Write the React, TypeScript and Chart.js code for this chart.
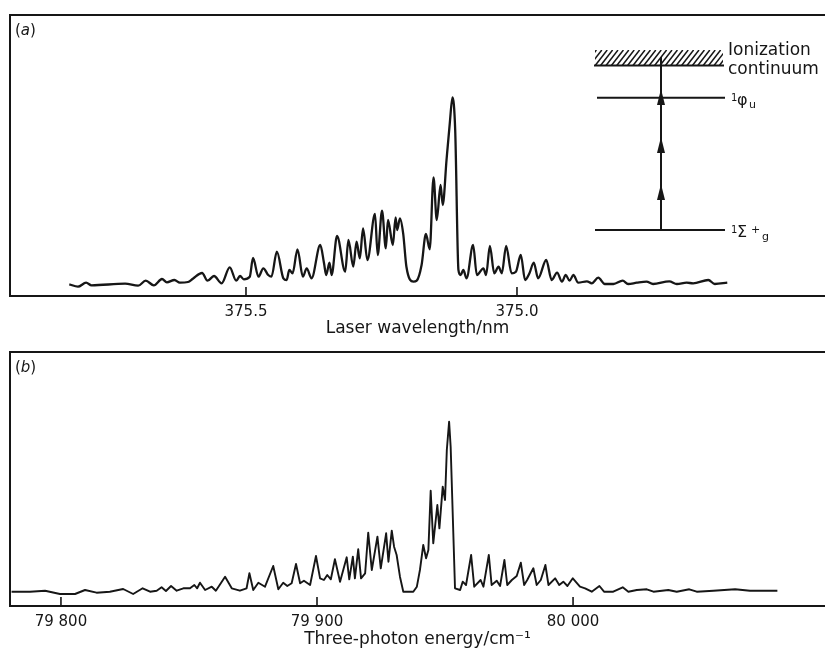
import React, { useEffect, useRef } from "react";
import { Chart, registerables } from "chart.js";

Chart.register(...registerables);

// ---- Panel (a): laser wavelength (nm) vs ion signal (arb. units) ----
const wavelengthA = [375.826, 375.810, 375.795, 375.785, 375.723, 375.699, 375.685, 375.670, 375.655, 375.646,
  375.632, 375.622, 375.607, 375.598, 375.581, 375.571, 375.559, 375.545, 375.530, 375.518,
  375.511, 375.504, 375.493, 375.487, 375.477, 375.468, 375.459, 375.453, 375.443, 375.431,
  375.425, 375.420, 375.414, 375.405, 375.395, 375.388, 375.379, 375.363, 375.356, 375.352,
  375.346, 375.342, 375.332, 375.317, 375.311, 375.302, 375.296, 375.290, 375.284, 375.276,
  375.262, 375.257, 375.249, 375.242, 375.238, 375.229, 375.224, 375.221, 375.216, 375.210,
  375.204, 375.191, 375.185, 375.176, 375.168, 375.161, 375.154, 375.148, 375.141, 375.137,
  375.130, 375.124, 375.119, 375.114, 375.108, 375.104, 375.099, 375.093, 375.081, 375.074,
  375.062, 375.057, 375.050, 375.042, 375.034, 375.028, 375.020, 375.010, 375.002, 374.993,
  374.985, 374.977, 374.969, 374.961, 374.946, 374.936, 374.926, 374.917, 374.910, 374.903,
  374.896, 374.887, 374.871, 374.862, 374.850, 374.838, 374.822, 374.805, 374.795, 374.779,
  374.761, 374.749, 374.719, 374.705, 374.687, 374.675, 374.647, 374.635, 374.612];
const intensityA = [11.7, 9.3, 13.3, 10.7, 12.3, 10.3, 15.3, 10.7, 17, 13.7,
  16, 13.3, 14, 17.3, 23, 15.3, 20, 12.7, 28.7, 15.3,
  20, 16.7, 19.3, 38, 19.3, 27.7, 21, 19.3, 44.3, 17.7,
  16, 26, 22.7, 46.7, 19.3, 27.7, 17.7, 51, 32.7, 21,
  33.3, 21, 60, 24.3, 56, 29.3, 54.3, 37.7, 67.7, 36,
  82, 41, 85.3, 47.7, 76, 51, 78.7, 66, 77.7, 62.7,
  29.3, 14.3, 15.3, 31, 62, 46.7, 118.7, 76, 111, 91,
  136, 172.7, 198.7, 166, 26, 21, 26, 17.7, 51, 21,
  27.7, 21, 50, 22.7, 29.3, 22.7, 50, 22.7, 24.3, 41,
  16, 22.7, 33.3, 17.7, 36, 16, 23.3, 14.3, 21, 15.3,
  21, 13.3, 14.7, 12.7, 18.3, 12, 12, 15.3, 12, 13.3,
  14.3, 12, 14.7, 12, 13.3, 12.7, 16, 12, 13.3];
const wavelengthTicks = [375.5, 375.0];
const wavelengthRange = [374.4317, 375.9354];
const intensityRangeA = [0, 281];

// ---- Panel (b): three-photon energy (cm^-1) vs ion signal ----
const energyB = [79780.7, 79787.9, 79793.8, 79799.6, 79805.5, 79809.4, 79813.9, 79819.1, 79824.3, 79828.2,
  79831.9, 79834.8, 79837.4, 79839.3, 79841.0, 79843.0, 79845.2, 79847.8, 79850.4, 79852.1,
  79853.2, 79854.3, 79856.3, 79858.9, 79860.5, 79864.1, 79866.7, 79869.9, 79872.5, 79873.6,
  79875.1, 79877.1, 79879.7, 79882.9, 79884.9, 79886.8, 79888.4, 79890.1, 79891.8, 79893.4,
  79894.9, 79897.3, 79899.6, 79901.2, 79902.7, 79904.0, 79905.4, 79907.0, 79909.0, 79911.6,
  79912.6, 79914.0, 79914.8, 79916.1, 79917.2, 79918.8, 79920.0, 79921.4, 79923.6, 79924.9,
  79927.0, 79927.9, 79929.2, 79930.1, 79931.1, 79932.4, 79933.7, 79937.6, 79939.0, 79940.2,
  79941.5, 79942.6, 79943.5, 79944.4, 79945.4, 79947.0, 79947.8, 79949.1, 79950.0, 79950.7,
  79951.6, 79952.2, 79953.9, 79955.9, 79956.9, 79958.2, 79960.2, 79961.4, 79963.9, 79965.0,
  79967.1, 79968.2, 79970.2, 79971.5, 79973.2, 79974.3, 79976.1, 79978.0, 79979.6, 79980.9,
  79982.1, 79984.5, 79985.8, 79987.4, 79989.2, 79990.4, 79993.0, 79994.6, 79996.2, 79997.8,
  79999.9, 80002.7, 80004.7, 80007.3, 80010.3, 80012.1, 80015.7, 80019.4, 80021.6, 80024.9,
  80028.8, 80031.4, 80037.2, 80040.5, 80045.4, 80048.3, 80054.8, 80063.3, 80069.1, 80079.8];
const intensityB = [14.3, 14.3, 15.3, 12, 12, 16, 13.3, 14.3, 17, 12,
  17.7, 14.3, 15.3, 18.7, 15, 20, 15.3, 17.7, 17.7, 21,
  17.7, 23.3, 16, 19.3, 15.3, 29.3, 17.7, 15.3, 17.7, 32.7,
  16, 23.3, 19.3, 40, 16.7, 23.3, 20, 22.7, 42, 22.7,
  25.3, 21, 50, 27.7, 26, 31, 26.7, 46.7, 24.3, 48.7,
  26.7, 49.3, 27.7, 56.7, 27.7, 32.7, 73.3, 36, 69.3, 37.7,
  72.7, 44.3, 75.3, 59.3, 51, 29.3, 14.3, 14.3, 19.3, 36,
  61, 47.7, 56, 115.3, 62.7, 101, 77.7, 119.3, 106, 156,
  184.3, 159.3, 17.7, 16, 24.3, 21, 51, 19.3, 26, 19.3,
  51, 21, 25.3, 20, 46, 21, 26, 30, 43.3, 21,
  26, 37.7, 21, 26, 41, 21, 27.7, 21, 24.3, 20,
  27.7, 19.3, 17.7, 14.3, 20, 14.3, 14.3, 18.7, 14.3, 16,
  16.7, 14.3, 16, 14.3, 16.7, 14.3, 15.3, 16.7, 15.3, 15.3];
const energyTicks = [79800, 79900, 80000];
const energyRange = [79780.1, 80098.4];
const intensityRangeB = [0, 254];

const INK = "#161616";
const FONT = "'DejaVu Sans', 'Liberation Sans', sans-serif";

const framePlugin = {
  id: "frame",
  afterDraw(chart: any, _args: any, opts: any) {
    const { ctx, chartArea: a } = chart;
    ctx.save();
    ctx.strokeStyle = INK;
    ctx.lineWidth = 2;
    ctx.beginPath();
    ctx.moveTo(a.right, a.top);
    ctx.lineTo(a.left, a.top);
    ctx.lineTo(a.left, a.bottom);
    ctx.lineTo(a.right, a.bottom);
    ctx.stroke();
    const xs = chart.scales.x;
    ctx.lineWidth = 1.6;
    xs.ticks.forEach((t: any) => {
      const px = xs.getPixelForValue(t.value);
      ctx.beginPath();
      ctx.moveTo(px, a.bottom);
      ctx.lineTo(px, a.bottom - 9);
      ctx.stroke();
    });
    // panel label "(a)" with italic letter
    const label = opts.label || "";
    ctx.fillStyle = INK;
    ctx.textBaseline = "alphabetic";
    let x = a.left + 5;
    const y = a.top + 20;
    ctx.font = `15px ${FONT}`;
    ctx.fillText("(", x, y);
    x += ctx.measureText("(").width;
    ctx.font = `italic 15px ${FONT}`;
    ctx.fillText(label, x, y);
    x += ctx.measureText(label).width;
    ctx.font = `15px ${FONT}`;
    ctx.fillText(")", x, y);
    ctx.restore();
  },
};

const insetPlugin = {
  id: "inset",
  afterDraw(chart: any) {
    const { ctx, chartArea: a } = chart;
    const ox = a.left - 10;
    const oy = a.top - 15;
    ctx.save();
    ctx.strokeStyle = INK;
    ctx.fillStyle = INK;
    // hatched continuum
    const hx0 = ox + 595, hx1 = ox + 723, hy0 = oy + 50, hy1 = oy + 65.5;
    ctx.save();
    ctx.beginPath();
    ctx.rect(hx0, hy0, hx1 - hx0, hy1 - hy0);
    ctx.clip();
    ctx.lineWidth = 1.5;
    for (let x = hx0 - 16; x < hx1 + 4; x += 5.4) {
      ctx.beginPath();
      ctx.moveTo(x, hy1);
      ctx.lineTo(x + 12, hy0);
      ctx.stroke();
    }
    ctx.restore();
    ctx.lineWidth = 2;
    ctx.beginPath();
    ctx.moveTo(hx0 - 1, hy1);
    ctx.lineTo(hx1 + 1, hy1);
    ctx.stroke();
    // levels
    ctx.beginPath();
    ctx.moveTo(ox + 597, oy + 97.7);
    ctx.lineTo(ox + 725, oy + 97.7);
    ctx.moveTo(ox + 595, oy + 230);
    ctx.lineTo(ox + 725, oy + 230);
    ctx.stroke();
    // vertical transition line
    const vx = ox + 661;
    ctx.lineWidth = 2;
    ctx.beginPath();
    ctx.moveTo(vx, oy + 57);
    ctx.lineTo(vx, oy + 230);
    ctx.stroke();
    // arrowheads
    [89, 137, 184].forEach((tip) => {
      ctx.beginPath();
      ctx.moveTo(vx, oy + tip);
      ctx.lineTo(vx - 4, oy + tip + 16);
      ctx.lineTo(vx + 4, oy + tip + 16);
      ctx.closePath();
      ctx.fill();
    });
    // labels
    ctx.textBaseline = "alphabetic";
    ctx.font = `17px ${FONT}`;
    ctx.fillText("Ionization", ox + 728, oy + 55);
    ctx.fillText("continuum", ox + 728, oy + 74);
    ctx.font = `10px ${FONT}`;
    ctx.fillText("1", ox + 731, oy + 101);
    ctx.font = `16px ${FONT}`;
    ctx.fillText("\u03c6", ox + 737, oy + 105);
    ctx.font = `11px ${FONT}`;
    ctx.fillText("u", ox + 749, oy + 108);
    ctx.font = `10px ${FONT}`;
    ctx.fillText("1", ox + 731, oy + 233);
    ctx.font = `16px ${FONT}`;
    ctx.fillText("\u03a3", ox + 737, oy + 237);
    ctx.font = `11px ${FONT}`;
    ctx.fillText("+", ox + 751, oy + 233);
    ctx.fillText("g", ox + 762, oy + 240);
    ctx.restore();
  },
};

function buildConfig(
  xs: number[],
  ys: number[],
  xRange: number[],
  yRange: number[],
  ticks: number[],
  reverse: boolean,
  tickLabel: (v: number) => string,
  title: string,
  padTop: number,
  axisHeight: number,
  lineWidth: number,
  label: string,
  smooth: boolean,
  extraPlugins: any[]
): any {
  return {
    type: "line",
    data: {
      datasets: [
        {
          data: xs.map((x, i) => ({ x, y: ys[i] })),
          borderColor: INK,
          borderWidth: lineWidth,
          pointRadius: 0,
          tension: 0,
          cubicInterpolationMode: smooth ? "monotone" : "default",
          fill: false,
          borderJoinStyle: "round",
        },
      ],
    },
    options: {
      animation: false,
      responsive: false,
      events: [],
      layout: { padding: { left: 10, top: padTop, right: 0, bottom: 0 } },
      plugins: {
        legend: { display: false },
        tooltip: { enabled: false },
        frame: { label },
      },
      scales: {
        x: {
          type: "linear",
          reverse,
          min: xRange[0],
          max: xRange[1],
          afterBuildTicks: (s: any) => {
            s.ticks = ticks.map((v) => ({ value: v }));
          },
          afterFit: (s: any) => {
            s.height = axisHeight;
          },
          grid: { display: false, drawTicks: false },
          border: { display: false },
          ticks: {
            padding: 7,
            color: INK,
            maxRotation: 0,
            autoSkip: false,
            font: { family: FONT, size: 15 },
            callback: (v: any) => tickLabel(Number(v)),
          },
          title: {
            display: true,
            text: title,
            color: INK,
            font: { family: FONT, size: 17 },
            padding: { top: 0, bottom: 1 },
          },
        },
        y: { display: false, min: yRange[0], max: yRange[1] },
      },
    },
    plugins: [framePlugin, ...extraPlugins],
  };
}

export default function App() {
  const refA = useRef<HTMLCanvasElement | null>(null);
  const refB = useRef<HTMLCanvasElement | null>(null);

  useEffect(() => {
    const chartA = new Chart(
      refA.current as HTMLCanvasElement,
      buildConfig(
        wavelengthA,
        intensityA,
        wavelengthRange,
        intensityRangeA,
        wavelengthTicks,
        true,
        (v) => v.toFixed(1),
        "Laser wavelength/nm",
        15,
        44,
        2.3,
        "a",
        true,
        [insetPlugin]
      )
    );
    const chartB = new Chart(
      refB.current as HTMLCanvasElement,
      buildConfig(
        energyB,
        intensityB,
        energyRange,
        intensityRangeB,
        energyTicks,
        false,
        (v) => String(Math.round(v)).replace(/(\d+)(\d{3})$/, "$1 $2"),
        "Three-photon energy/cm\u207b\u00b9",
        12,
        45,
        1.9,
        "b",
        false,
        []
      )
    );
    return () => {
      chartA.destroy();
      chartB.destroy();
    };
  }, []);

  return (
    <div style={{ position: "absolute", left: 0, top: 0, width: 825, height: 651, background: "#fff" }}>
      <canvas ref={refA} width={825} height={340} style={{ position: "absolute", left: 0, top: 0 }} />
      <canvas ref={refB} width={825} height={311} style={{ position: "absolute", left: 0, top: 340 }} />
    </div>
  );
}
